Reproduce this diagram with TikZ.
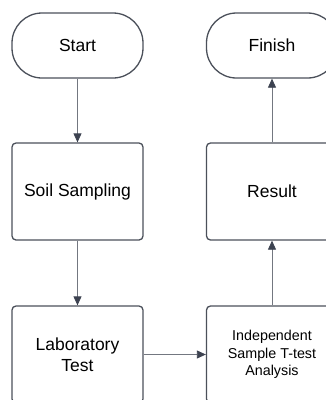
\documentclass[tikz,border=0pt]{standalone}
\usepackage{fontspec}
\setmainfont{Liberation Sans}
\usetikzlibrary{arrows.meta}
\definecolor{boxline}{RGB}{75,80,90}
\definecolor{linkline}{RGB}{115,119,128}
\definecolor{tipfill}{RGB}{60,66,80}
\begin{document}
\begin{tikzpicture}[x=1pt,y=-1pt,line join=round,
			declare function={xL = 77.5; xR = 272; yT = 45.5; yM = 191.5; yB = 354.5; W = 131; hT = 65; hB = 97;},
			terminal/.style={draw=boxline,line width=1.3pt,rounded corners=30pt,minimum width=W,minimum height=hT,inner sep=0pt,font=\fontsize{17.5}{21.5}\selectfont},
			stepbox/.style={draw=boxline,line width=1.3pt,rounded corners=4pt,minimum width=W,minimum height=hB,inner sep=0pt,align=center,font=\fontsize{17.5}{21.5}\selectfont},
			link/.style={draw=linkline,line width=0.8pt,-{Triangle[length=9pt,width=8pt,fill=tipfill,color=tipfill]}}]
			\useasboundingbox (0,0) rectangle (326,400);
			%% Bắt đầu / kết thúc
			\node[terminal] (start) at (xL,yT) {Start};
			\node[terminal] (finish) at (xR,yT) {Finish};
			%% Các bước
			\node[stepbox] (soil) at (xL,yM) {Soil Sampling};
			\node[stepbox] (result) at (xR,yM) {Result};
			\node[stepbox] (lab) at (xL,yB) {Laboratory\\Test};
			\node[stepbox,font=\fontsize{14.3}{17.5}\selectfont] (ttest) at (xR,yB) {Independent\\Sample T-test\\Analysis};
			%% Mũi tên
			\draw[link] (start) -- (soil);
			\draw[link] (soil) -- (lab);
			\draw[link] (lab) -- (ttest);
			\draw[link] (ttest) -- (result);
			\draw[link] (result) -- (finish);
		\end{tikzpicture}
\end{document}
